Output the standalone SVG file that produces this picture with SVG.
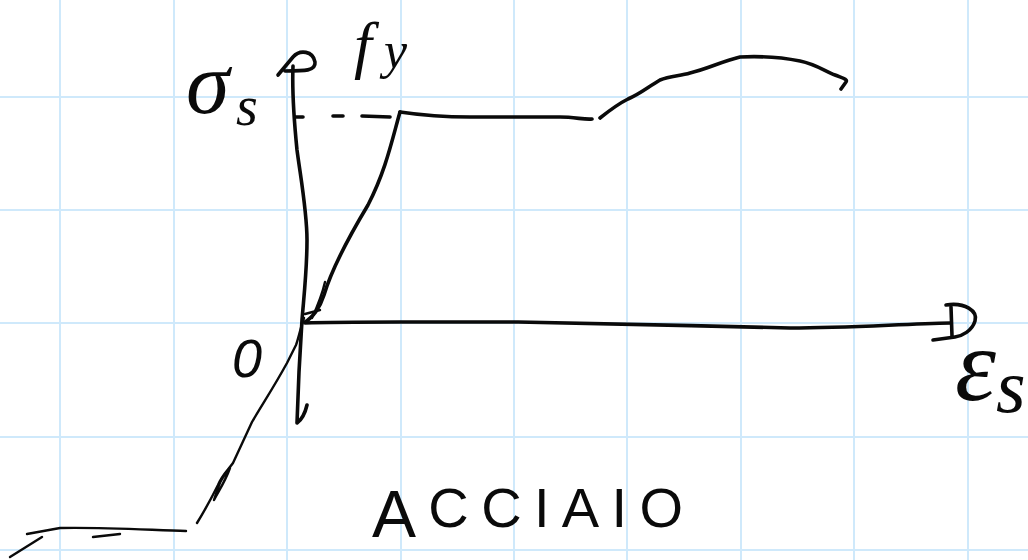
<svg xmlns="http://www.w3.org/2000/svg" width="1028" height="560" viewBox="0 0 1028 560">
<style>
.grid{stroke:#cfe9fb;stroke-width:2;fill:none}
.ink{stroke:#0a0a0a;stroke-width:3.6;fill:none;stroke-linecap:round;stroke-linejoin:round}
.thin{stroke:#0a0a0a;stroke-width:2.4;fill:none;stroke-linecap:round;stroke-linejoin:round}
.math{font-family:"Liberation Serif","DejaVu Serif",serif;font-style:italic;fill:#0a0a0a}
.lbl{font-family:"Liberation Sans","DejaVu Sans",sans-serif;fill:#0a0a0a}
</style>
<rect width="1028" height="560" fill="#ffffff"/>
<g id="grid" class="grid">
<line x1="60" y1="0" x2="60" y2="560"/>
<line x1="174" y1="0" x2="174" y2="560"/>
<line x1="287" y1="0" x2="287" y2="560"/>
<line x1="401" y1="0" x2="401" y2="560"/>
<line x1="514" y1="0" x2="514" y2="560"/>
<line x1="627" y1="0" x2="627" y2="560"/>
<line x1="741" y1="0" x2="741" y2="560"/>
<line x1="854" y1="0" x2="854" y2="560"/>
<line x1="968" y1="0" x2="968" y2="560"/>
<line x1="0" y1="97" x2="1028" y2="97"/>
<line x1="0" y1="210" x2="1028" y2="210"/>
<line x1="0" y1="323" x2="1028" y2="323"/>
<line x1="0" y1="437" x2="1028" y2="437"/>
<line x1="0" y1="550" x2="1028" y2="550"/>
</g>
<g id="axes">
<path class="ink" d="M293,66 C292,90 294,120 297,150 C301,180 307,212 307,240 C307,270 304,295 302,320 C300,350 298,390 297,423 Q304,418 307,405"/>
<path class="ink" d="M278,75 L293,57 C300,49 313,51 315,62 C316,71 305,71 285,71"/>
<path class="ink" d="M305,323 C330,322 360,322 400,322 L518,322 C600,323 700,326 790,328 C850,328 900,324 951,323"/>
<path class="ink" d="M951,307 L952,336"/>
<path class="ink" d="M946,305 C965,302 978,311 975,321 C972,331 962,336 955,337 L933,340"/>
</g>
<g id="curve">
<path class="ink" d="M295,117 L303,117 M333,116 L343,116 M362,116 L390,117"/>
<path class="ink" d="M400,112 C392,140 386,170 368,205 C350,235 332,268 324,295 C320,308 312,318 305,322"/>
<path class="thin" d="M305,314 L320,310 M325,282 C322,295 318,305 312,318"/>
<path class="thin" d="M304,318 C300,330 298,340 296,345 L287,363 C275,385 262,405 252,422 L233,463 C228,470 222,475 218,485 C212,497 205,510 197,523"/>
<path class="thin" d="M230,468 C224,474 218,485 214,500 C218,492 225,482 230,468"/>
<path class="thin" d="M186,531 C150,530 100,527 60,528 L27,534 M93,537 L120,534 M10,557 L42,537"/>
<path class="ink" d="M400,112 C420,115 440,117 470,117 L560,117 C575,117 585,120 592,119"/>
<path class="ink" d="M600,118 C610,110 620,103 628,99 C640,94 648,87 660,80 C670,76 680,76 690,73 C710,68 720,62 740,57 C760,56 780,57 800,61 C815,64 825,71 835,75 C842,78 848,79 846,82 L841,89"/>
</g>
<g id="labels">
<text class="math" x="186" y="113" font-size="88">σ</text>
<text class="math" x="236" y="125" font-size="56">s</text>
<text class="math" x="354" y="66" font-size="64">f</text>
<text class="math" x="384" y="68" font-size="52">y</text>
<text class="lbl" x="232" y="377" font-size="54" font-style="italic">0</text>
<text class="math" x="955" y="400" font-size="104">ε</text>
<text class="math" x="996" y="412" font-size="76">s</text>
<text class="lbl" x="372" y="527" font-size="56" textLength="311" lengthAdjust="spacing"><tspan font-size="66" dy="10">A</tspan><tspan dy="-10">CCIAIO</tspan></text>
</g>
</svg>
